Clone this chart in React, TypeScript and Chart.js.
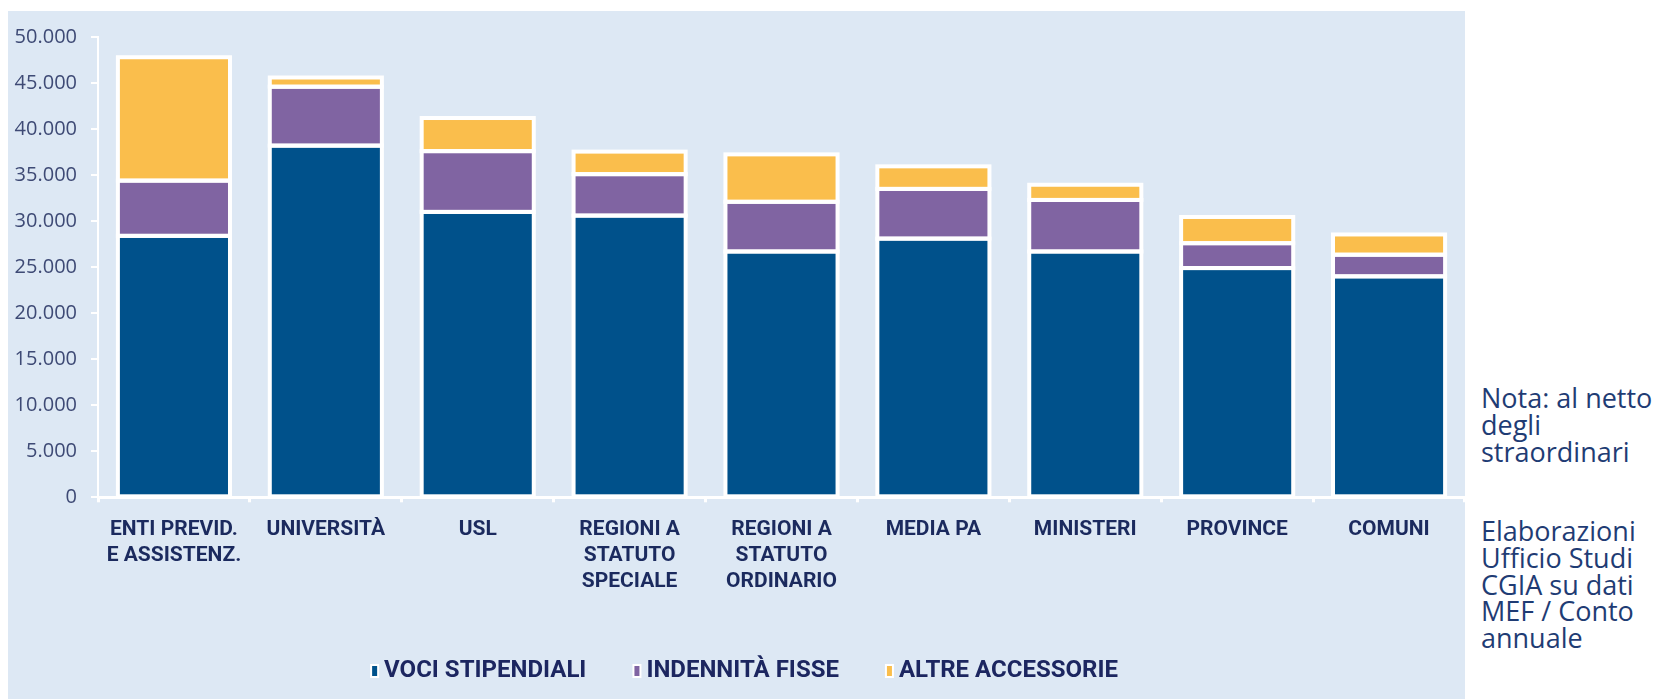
import React, { useEffect, useRef } from "react";
import { Chart, registerables } from "chart.js";

Chart.register(...registerables);

const categories: string[][] = [
  ["ENTI PREVID.", "E ASSISTENZ."],
  ["UNIVERSITÀ"],
  ["USL"],
  ["REGIONI A", "STATUTO", "SPECIALE"],
  ["REGIONI A", "STATUTO", "ORDINARIO"],
  ["MEDIA PA"],
  ["MINISTERI"],
  ["PROVINCE"],
  ["COMUNI"],
];

const seriesNames = ["VOCI STIPENDIALI", "INDENNITÀ FISSE", "ALTRE ACCESSORIE"];
const vociStipendiali = [28400, 38200, 31000, 30600, 26700, 28100, 26700, 24900, 24000];
const indennitaFisse = [6000, 6400, 6600, 4500, 5400, 5400, 5600, 2700, 2350];
const altreAccessorie = [13400, 1000, 3600, 2450, 5150, 2450, 1650, 2850, 2200];

const yMin = 0;
const yMax = 50000;
const yStep = 5000;

const noteLines = ["Nota: al netto", "degli", "straordinari"];
const sourceLines = ["Elaborazioni", "Ufficio Studi", "CGIA su dati", "MEF / Conto", "annuale"];

const BG = "#DDE8F4";
const C_BLUE = "#00518B";
const C_PURPLE = "#8064A2";
const C_YELLOW = "#FABE4C";
const seriesColors = [C_BLUE, C_PURPLE, C_YELLOW];
const BOLD_FONT = 'Roboto, "Liberation Sans", sans-serif';

const fmt = (v: number) => String(v).replace(/\B(?=(\d{3})+(?!\d))/g, ".");

// Small legend swatch: white-framed coloured rectangle, placed so the text sits close to it
function makeSwatch(color: string): HTMLCanvasElement {
  const c = document.createElement("canvas");
  c.width = 40;
  c.height = 14;
  const ctx = c.getContext("2d")!;
  ctx.fillStyle = "#FFFFFF";
  ctx.fillRect(19, 0, 9, 14);
  ctx.fillStyle = color;
  ctx.fillRect(21, 2, 5, 10);
  return c;
}

// White outline centred on each bar's edges (like the original's 4px borders)
const barBorderPlugin = {
  id: "barBorders",
  afterDatasetsDraw(chart: any) {
    const ctx = chart.ctx;
    ctx.save();
    ctx.strokeStyle = "#FFFFFF";
    ctx.lineWidth = 4;
    ctx.lineJoin = "miter";
    chart.data.datasets.forEach((_: any, i: number) => {
      const meta = chart.getDatasetMeta(i);
      if (meta.hidden) return;
      meta.data.forEach((el: any) => {
        const { x, y, base, width } = el.getProps(["x", "y", "base", "width"], true);
        const top = Math.min(y, base);
        const h = Math.abs(base - y);
        ctx.strokeRect(x - width / 2, top, width, h);
      });
    });
    ctx.restore();
  },
};

const legendShiftPlugin = {
  id: "legendShift",
  afterLayout(chart: any) {
    if (chart.legend) chart.legend.left += 15;
  },
};

export default function App() {
  const ref = useRef<HTMLCanvasElement>(null);

  useEffect(() => {
    if (!ref.current) return;
    const swatches = seriesColors.map(makeSwatch);
    const common = { borderWidth: 0, borderColor: "#FFFFFF" };
    const chart = new Chart(ref.current, {
      type: "bar",
      data: {
        labels: categories,
        datasets: [
          { label: seriesNames[0], data: vociStipendiali, backgroundColor: C_BLUE, ...common },
          { label: seriesNames[1], data: indennitaFisse, backgroundColor: C_PURPLE, ...common },
          { label: seriesNames[2], data: altreAccessorie, backgroundColor: C_YELLOW, ...common },
        ],
      },
      options: {
        responsive: false,
        animation: false,
        devicePixelRatio: 1,
        layout: { padding: { left: 0, right: 0, top: 23.5, bottom: 6 } },
        datasets: {
          bar: { categoryPercentage: 1, barPercentage: 0.738 },
        },
        plugins: {
          tooltip: { enabled: false },
          legend: {
            display: true,
            position: "bottom",
            labels: {
              color: "#1C2660",
              font: { family: BOLD_FONT, size: 24, weight: "bold" },
              usePointStyle: true,
              pointStyleWidth: 2,
              boxHeight: 14,
              padding: 46,
              generateLabels: (c: any) =>
                Chart.defaults.plugins.legend.labels
                  .generateLabels(c)
                  .map((l: any) => ({ ...l, pointStyle: swatches[l.datasetIndex], lineWidth: 0 })),
            },
          },
        },
        scales: {
          x: {
            stacked: true,
            ticks: {
              color: "#1B2A5E",
              font: { family: BOLD_FONT, size: 21, weight: "bold", lineHeight: "26px" },
              padding: 14,
              maxRotation: 0,
              autoSkip: false,
            },
            grid: {
              display: true,
              drawOnChartArea: false,
              drawTicks: true,
              tickLength: 5,
              color: "#FFFFFF",
              lineWidth: 3,
              offset: true,
            },
            border: { display: true, color: "#FFFFFF", width: 3 },
            afterFit: (s: any) => {
              s.height = 115.7;
            },
          },
          y: {
            stacked: true,
            min: yMin,
            max: yMax,
            ticks: {
              stepSize: yStep,
              color: "#3E4A75",
              font: { family: '"Open Sans", sans-serif', size: 20 },
              padding: 14,
              callback: (v: any) => fmt(Number(v)),
            },
            grid: {
              display: true,
              drawOnChartArea: false,
              drawTicks: true,
              tickLength: 7,
              color: "#FFFFFF",
              lineWidth: 2,
            },
            border: { display: true, color: "#FFFFFF", width: 2 },
            afterFit: (s: any) => {
              s.width = 90;
            },
          },
        },
      },
      plugins: [barBorderPlugin, legendShiftPlugin],
    } as any);
    return () => chart.destroy();
  }, []);

  const noteStyle: React.CSSProperties = {
    position: "absolute",
    left: 1481,
    fontFamily: '"Open Sans", sans-serif',
    fontSize: 27,
    lineHeight: "26.8px",
    color: "#1F3C74",
    whiteSpace: "nowrap",
  };

  return (
    <div
      style={{
        position: "absolute",
        left: 0,
        top: 0,
        width: 1666,
        height: 699,
        overflow: "hidden",
        background: "#FFFFFF",
      }}
    >
      <div style={{ position: "absolute", left: 8, top: 11, width: 1457, height: 688, background: BG }}>
        <canvas ref={ref} width={1457} height={688} style={{ display: "block", width: 1457, height: 688 }} />
      </div>
      <div style={{ ...noteStyle, top: 385 }}>
        {noteLines.map((t, i) => (
          <div key={i}>{t}</div>
        ))}
      </div>
      <div style={{ ...noteStyle, top: 518 }}>
        {sourceLines.map((t, i) => (
          <div key={i}>{t}</div>
        ))}
      </div>
    </div>
  );
}
